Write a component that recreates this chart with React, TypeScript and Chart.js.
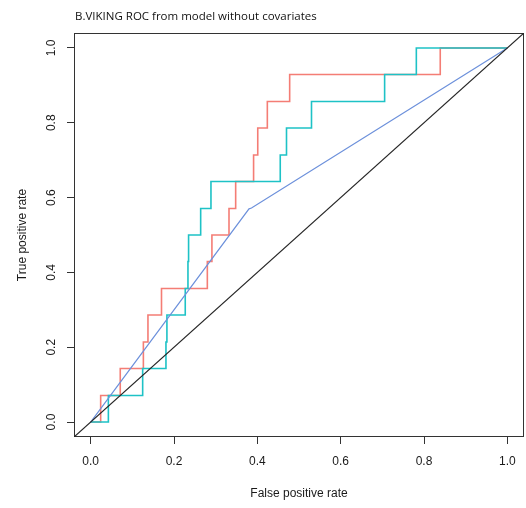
import React, { useEffect, useRef } from "react";
import { Chart, registerables } from "chart.js";

Chart.register(...registerables);

const TITLE = "B.VIKING ROC from model without covariates";
const X_TITLE = "False positive rate";
const Y_TITLE = "True positive rate";
const TICKS = [0, 0.2, 0.4, 0.6, 0.8, 1.0];

// Model A (salmon) ROC steps
const redFpr = [0, 0.024, 0.071, 0.1265, 0.1375, 0.17, 0.28, 0.291, 0.332, 0.348, 0.391, 0.401, 0.424, 0.4776, 0.839, 1.0];
const redTpr = [0, 0.071, 0.143, 0.214, 0.286, 0.357, 0.429, 0.5, 0.571, 0.643, 0.714, 0.786, 0.857, 0.929, 1.0, 1.0];

// Model B (cyan) ROC steps
const cyanFpr = [0, 0.0425, 0.1248, 0.1807, 0.183, 0.227, 0.2335, 0.235, 0.264, 0.2887, 0.455, 0.47, 0.53, 0.7055, 0.7816, 1.0];
const cyanTpr = [0, 0.071, 0.143, 0.214, 0.286, 0.357, 0.429, 0.5, 0.571, 0.643, 0.714, 0.786, 0.857, 0.929, 1.0, 1.0];

// Blue ROC (single threshold)
const blueFpr = [0, 0.38, 0.386, 1.0];
const blueTpr = [0, 0.57, 0.572, 1.0];

// Chance diagonal (spans the full plot region)
const diagFpr = [-0.04, 1.04];
const diagTpr = [-0.04, 1.04];

const AXIS_MIN = -0.04;
const AXIS_MAX = 1.04;

const toPts = (xs: number[], ys: number[]) => xs.map((x, i) => ({ x, y: ys[i] }));

const AXIS_FONT = { family: "'Liberation Sans', Arial, Helvetica, sans-serif", size: 12 };
const TEXT_COLOR = "#1a1a1a";

export default function App() {
  const ref = useRef<HTMLCanvasElement>(null);

  useEffect(() => {
    if (!ref.current) return;

    const framePlugin = {
      id: "frame",
      beforeDatasetsDraw(chart: any) {
        const { ctx, chartArea } = chart;
        ctx.save();
        ctx.strokeStyle = "#333";
        ctx.lineWidth = 1;
        const l = Math.round(chartArea.left) + 0.5;
        const t = Math.round(chartArea.top) + 0.5;
        const r = Math.round(chartArea.right) - 0.5;
        const b = Math.round(chartArea.bottom) - 0.5;
        ctx.strokeRect(l, t, r - l, b - t);
        ctx.restore();
      },
    };

    const titlePlugin = {
      id: "leftTitle",
      afterDraw(chart: any) {
        const { ctx, chartArea } = chart;
        ctx.save();
        ctx.fillStyle = "#111";
        ctx.font = "11.5px 'Open Sans', 'Noto Sans', sans-serif";
        ctx.textBaseline = "alphabetic";
        ctx.textAlign = "left";
        ctx.fillText(TITLE, chartArea.left + 1, 19.5);
        ctx.restore();
      },
    };

    const setTicks = (scale: any) => {
      scale.ticks = TICKS.map((v) => ({ value: v }));
    };

    const chart = new Chart(ref.current, {
      type: "line",
      data: {
        datasets: [
          {
            data: toPts(diagFpr, diagTpr),
            borderColor: "#262626",
            borderWidth: 1.2,
            pointRadius: 0,
          },
          {
            data: toPts(blueFpr, blueTpr),
            borderColor: "#6C90DB",
            borderWidth: 1.2,
            pointRadius: 0,
          },
          {
            data: toPts(cyanFpr, cyanTpr),
            borderColor: "#1EC2C6",
            borderWidth: 1.6,
            pointRadius: 0,
            stepped: "before",
          },
          {
            data: toPts(redFpr, redTpr),
            borderColor: "#F47D75",
            borderWidth: 1.6,
            pointRadius: 0,
            stepped: "before",
          },
        ],
      },
      options: {
        animation: false,
        responsive: false,
        devicePixelRatio: 1,
        layout: { padding: { top: 33, right: 2, left: 0, bottom: 0 } },
        plugins: {
          legend: { display: false },
          tooltip: { enabled: false },
          title: { display: false },
        },
        scales: {
          x: {
            type: "linear",
            min: AXIS_MIN,
            max: AXIS_MAX,
            afterBuildTicks: setTicks,
            afterFit: (s: any) => {
              s.height = 71;
            },
            border: { display: false },
            grid: {
              drawOnChartArea: false,
              drawTicks: true,
              tickLength: 7,
              color: "#333",
              lineWidth: 1,
            },
            ticks: {
              padding: 10,
              color: TEXT_COLOR,
              font: AXIS_FONT,
              maxRotation: 0,
              minRotation: 0,
              callback: (v: any) => Number(v).toFixed(1),
            },
            title: {
              display: true,
              text: X_TITLE,
              color: TEXT_COLOR,
              font: AXIS_FONT,
              padding: { top: 0, bottom: 7.5 },
            },
          },
          y: {
            type: "linear",
            min: AXIS_MIN,
            max: AXIS_MAX,
            afterBuildTicks: setTicks,
            afterFit: (s: any) => {
              s.width = 74;
            },
            border: { display: false },
            grid: {
              drawOnChartArea: false,
              drawTicks: true,
              tickLength: 7,
              color: "#333",
              lineWidth: 1,
            },
            ticks: {
              padding: 6.5,
              color: TEXT_COLOR,
              font: AXIS_FONT,
              minRotation: 90,
              maxRotation: 90,
              crossAlign: "center",
              callback: (v: any) => Number(v).toFixed(1),
            },
            title: {
              display: true,
              text: Y_TITLE,
              color: TEXT_COLOR,
              font: AXIS_FONT,
              padding: { top: 15.5, bottom: 0 },
            },
          },
        },
      },
      plugins: [framePlugin, titlePlugin],
    } as any);

    return () => chart.destroy();
  }, []);

  return (
    <div style={{ position: "absolute", left: 0, top: 0, width: 526, height: 508, background: "#fff" }}>
      <canvas ref={ref} width={526} height={508} style={{ display: "block" }} />
    </div>
  );
}
